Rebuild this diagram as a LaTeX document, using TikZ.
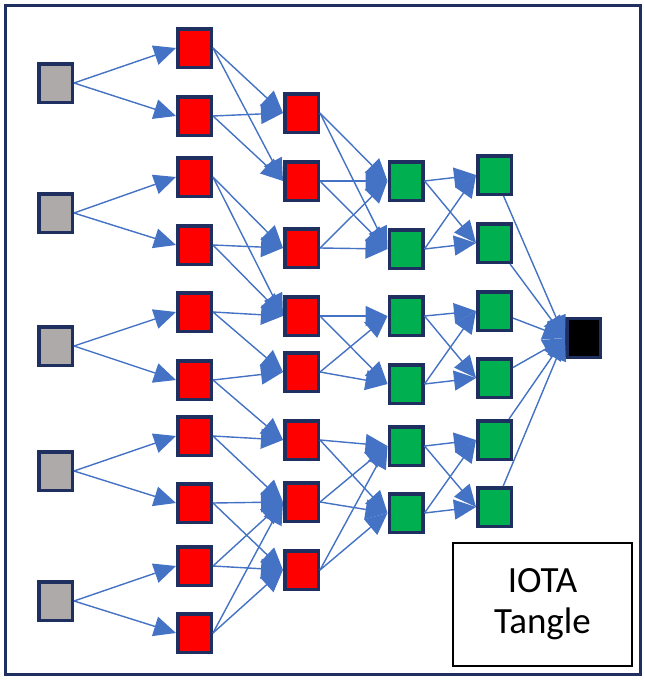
\documentclass[tikz,border=0pt]{standalone}
\usepackage{fontspec}
\setmainfont{Carlito}
\usetikzlibrary{arrows.meta}
\definecolor{navy}{HTML}{1F3060}
\definecolor{edgeblue}{HTML}{4472C4}
\definecolor{greyfill}{HTML}{AEAAAA}
\definecolor{redfill}{HTML}{FF0000}
\definecolor{greenfill}{HTML}{00B050}
\tikzset{
  blk/.style={draw=navy, line width=3.5pt, minimum width=33.5pt, minimum height=38.5pt, inner sep=0pt},
  gnode/.style={blk, fill=greyfill},
  rnode/.style={blk, fill=redfill},
  gr/.style={blk, fill=greenfill},
  bnode/.style={blk, fill=black, minimum height=39pt},
  link/.style={draw=edgeblue, line width=1.4pt, -{Triangle[length=22pt,width=20pt]}, fill=edgeblue},
  frame/.style={draw=navy, line width=3pt},
  tagbox/.style={draw=black, line width=1.8pt, minimum width=179pt, minimum height=123pt, inner sep=0pt, font=\fontsize{37}{41}\selectfont, align=center}
}
\begin{document}
\begin{tikzpicture}[x=1pt,y=-1pt]
\useasboundingbox (0,0) rectangle (645,680);
\draw[frame] (5.5,5.5) rectangle (640,674.5);
% grey column
\foreach \i/\y in {1/83,2/213,3/346,4/471,5/601}
  \node[gnode] (a\i) at (55.5,\y) {};
% red column 1
\foreach \i/\y in {1/48,2/116,3/177,4/245,5/312,6/380,7/436,8/503,9/566,10/633}
  \node[rnode] (b\i) at (194.5,\y) {};
% red column 2
\foreach \i/\y in {1/113,2/181,3/248,4/316,5/372,6/440,7/502,8/570}
  \node[rnode] (c\i) at (301.5,\y) {};
% green column 3
\foreach \i/\y in {1/181,2/249,3/316,4/384,5/446,6/513}
  \node[gr] (d\i) at (406,\y) {};
% green column 4
\foreach \i/\y in {1/175,2/243,3/311,4/378,5/440,6/507}
  \node[gr] (e\i) at (494.5,\y) {};
% black
\node[bnode] (z) at (583.5,338) {};
% label
\node[tagbox] (lbl) at (542.5,604.5) {IOTA\\Tangle};
% edges grey -> red1
\foreach \s/\t in {1/1,1/2,2/3,2/4,3/5,3/6,4/7,4/8,5/9,5/10}
  \draw[link] (a\s.east) -- (b\t.west);
% red1 -> red2
\foreach \s/\t in {1/1,1/2,2/1,2/2,3/3,3/4,4/3,4/4,5/4,5/5,6/5,6/6,7/6,7/7,8/7,8/8,9/7,9/8,10/7,10/8}
  \draw[link] (b\s.east) -- (c\t.west);
% red2 -> green3
\foreach \s/\t in {1/1,1/2,2/1,2/2,3/1,3/2,4/3,4/4,5/3,5/4,6/5,6/6,7/5,7/6,8/5,8/6}
  \draw[link] (c\s.east) -- (d\t.west);
% green3 -> green4
\foreach \s/\t in {1/1,1/2,2/1,2/2,3/3,3/4,4/3,4/4,5/5,5/6,6/5,6/6}
  \draw[link] (d\s.east) -- (e\t.west);
% green4 -> black
\foreach \s in {1,...,6}
  \draw[link] (e\s) -- (z.west);
\end{tikzpicture}
\end{document}
